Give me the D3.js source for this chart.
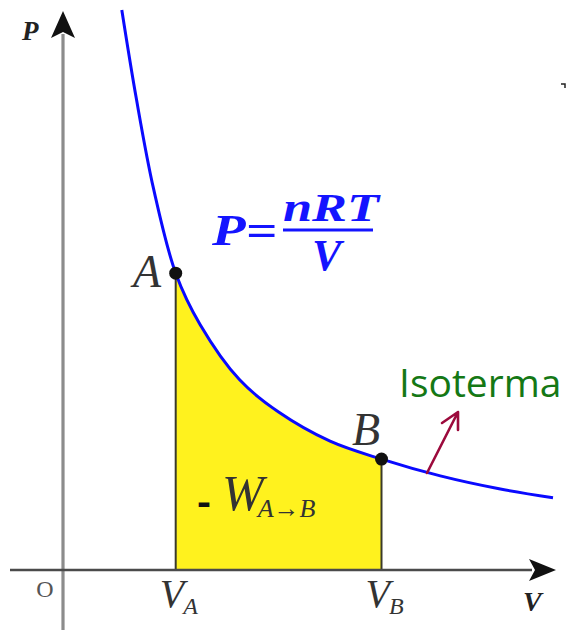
<!DOCTYPE html>
<html>
<head>
<meta charset="utf-8">
<script src="https://cdn.jsdelivr.net/npm/d3@7"></script>
<style>
  html, body { margin: 0; padding: 0; background: #fff; }
  svg { display: block; }
</style>
</head>
<body>
<svg id="chart" width="566" height="630"></svg>
<script>
// Isothermal curve P = nRT / V, sampled volume / pressure pairs
const volumes   = [1.2, 1.5, 1.85, 2.3, 2.8, 3.6, 4.4, 5.45, 6.5, 7.7, 8.9, 10.0];
const pressures = [10.0, 8.4, 6.8, 5.3, 4.38, 3.4, 2.82, 2.3, 1.98, 1.68, 1.45, 1.29];

// States A and B on the isotherm
const stateNames = ["A", "B"];
const stateV = [2.3, 6.5];
const stateP = [5.3, 1.98];

// Axis labels
const axisLabels = { x: "V", y: "P", origin: "O" };
const tickLabels = [{ main: "V", sub: "A" }, { main: "V", sub: "B" }];

const svg = d3.select("#chart");
const x = d3.scaleLinear().domain([0, 10]).range([63, 553]);
const y = d3.scaleLinear().domain([0, 10]).range([570, 10]);

const pts = volumes.map((v, i) => [v, pressures[i]]);
const curve = d3.curveCatmullRom.alpha(0.5);

// Work area under the curve between V_A and V_B
svg.append("clipPath").attr("id", "work")
  .append("rect")
  .attr("x", x(stateV[0])).attr("y", 0)
  .attr("width", x(stateV[1]) - x(stateV[0])).attr("height", y(0));

svg.append("path")
  .datum(pts)
  .attr("clip-path", "url(#work)")
  .attr("fill", "#fff21e")
  .attr("d", d3.area().x(d => x(d[0])).y0(y(0)).y1(d => y(d[1])).curve(curve));

// Vertical edges of the work area
svg.selectAll("line.edge")
  .data(stateV.map((v, i) => [v, stateP[i]]))
  .join("line")
  .attr("class", "edge")
  .attr("x1", d => x(d[0])).attr("x2", d => x(d[0]))
  .attr("y1", d => y(d[1])).attr("y2", y(0))
  .attr("stroke", "#3a3a2a").attr("stroke-width", 2);

// Vertical (P) axis
svg.append("line")
  .attr("x1", x(0)).attr("x2", x(0))
  .attr("y1", 630).attr("y2", 34)
  .attr("stroke", "#8c8c8c").attr("stroke-width", 3.2);

// Horizontal (V) axis
svg.append("line")
  .attr("x1", 10).attr("x2", 532)
  .attr("y1", y(0)).attr("y2", y(0))
  .attr("stroke", "#4a4a4a").attr("stroke-width", 2.6);

// Arrow heads
const ax = x(0), ay = 11;
svg.append("path")
  .attr("d", `M${ax},${ay} L${ax + 12},${ay + 27} L${ax},${ay + 21} L${ax - 12},${ay + 27} Z`)
  .attr("fill", "#111");
const hx = 556, hy = y(0);
svg.append("path")
  .attr("d", `M${hx},${hy} L${hx - 27},${hy - 11} L${hx - 21},${hy} L${hx - 27},${hy + 11} Z`)
  .attr("fill", "#111");

// Isotherm
svg.append("path")
  .datum(pts)
  .attr("fill", "none")
  .attr("stroke", "#0a0aff")
  .attr("stroke-width", 3)
  .attr("d", d3.line().x(d => x(d[0])).y(d => y(d[1])).curve(curve));

// State points
svg.selectAll("circle.state")
  .data(stateV.map((v, i) => [v, stateP[i]]))
  .join("circle")
  .attr("class", "state")
  .attr("cx", d => x(d[0])).attr("cy", d => y(d[1]))
  .attr("r", 6.5).attr("fill", "#111");

const serif = "'Liberation Serif', 'Times New Roman', serif";

// Axis letters
svg.append("text").text(axisLabels.y)
  .attr("x", 22).attr("y", 40)
  .attr("font-family", serif).attr("font-style", "italic").attr("font-weight", "bold")
  .attr("font-size", 27).attr("fill", "#222");
svg.append("text").text(axisLabels.x)
  .attr("x", 523).attr("y", 611)
  .attr("font-family", serif).attr("font-style", "italic").attr("font-weight", "bold")
  .attr("font-size", 28).attr("fill", "#222");
svg.append("text").text(axisLabels.origin)
  .attr("x", 45).attr("y", 597).attr("text-anchor", "middle")
  .attr("font-family", serif).attr("font-size", 24).attr("fill", "#555");

// V_A, V_B tick labels
tickLabels.forEach((t, i) => {
  const tx = svg.append("text")
    .attr("x", x(stateV[i]) - 16).attr("y", 607)
    .attr("font-family", serif).attr("font-style", "italic")
    .attr("fill", "#333");
  tx.append("tspan").text(t.main).attr("font-size", 40);
  tx.append("tspan").text(t.sub).attr("font-size", 24).attr("dx", -1).attr("dy", 7);
});

// State letters
const stateLabelPos = [[133, 287], [352, 445]];
stateNames.forEach((n, i) => {
  svg.append("text").text(n)
    .attr("x", stateLabelPos[i][0]).attr("y", stateLabelPos[i][1])
    .attr("font-family", serif).attr("font-style", "italic")
    .attr("font-size", 46).attr("fill", "#333");
});

// Equation of the isotherm
const blue = "#1414ff";
svg.append("text").text("P=")
  .attr("x", 212).attr("y", 245)
  .attr("font-family", serif).attr("font-style", "italic").attr("font-weight", "bold")
  .attr("font-size", 44).attr("fill", blue)
  .attr("textLength", 65).attr("lengthAdjust", "spacingAndGlyphs");
svg.append("text").text("nRT")
  .attr("x", 283).attr("y", 221)
  .attr("font-family", serif).attr("font-style", "italic").attr("font-weight", "bold")
  .attr("font-size", 40).attr("fill", blue)
  .attr("textLength", 96).attr("lengthAdjust", "spacingAndGlyphs");
svg.append("line")
  .attr("x1", 283).attr("x2", 373).attr("y1", 230).attr("y2", 230)
  .attr("stroke", blue).attr("stroke-width", 3);
svg.append("text").text("V")
  .attr("x", 312).attr("y", 270)
  .attr("font-family", serif).attr("font-style", "italic").attr("font-weight", "bold")
  .attr("font-size", 44).attr("fill", blue);

// Work label  - W_{A→B}
svg.append("text").text("-")
  .attr("x", 197).attr("y", 514)
  .attr("font-family", "'Liberation Sans', Arial, sans-serif").attr("font-weight", "bold")
  .attr("font-size", 36).attr("fill", "#111")
  .attr("textLength", 14).attr("lengthAdjust", "spacingAndGlyphs");
const work = svg.append("text")
  .attr("x", 222).attr("y", 510)
  .attr("font-family", serif).attr("font-style", "italic")
  .attr("fill", "#333");
work.append("tspan").text("W").attr("font-size", 50);
work.append("tspan").text("A→B").attr("font-size", 26).attr("dx", -6).attr("dy", 7);

// "Isoterma" callout with arrow
svg.append("text").text("Isoterma")
  .attr("x", 399).attr("y", 397)
  .attr("font-family", "'Open Sans', 'DejaVu Sans', sans-serif")
  .attr("font-size", 39).attr("fill", "#157815");
svg.append("path")
  .attr("d", "M427,473 L458,412 M442,423 L458,412 L458,430")
  .attr("fill", "none").attr("stroke", "#9c0a3c")
  .attr("stroke-width", 2.6).attr("stroke-linecap", "round").attr("stroke-linejoin", "round");

// Small tick mark at upper right
svg.append("path")
  .attr("d", "M561,84 L565,84 L565,88")
  .attr("fill", "none").attr("stroke", "#222").attr("stroke-width", 1.5);
</script>
</body>
</html>
